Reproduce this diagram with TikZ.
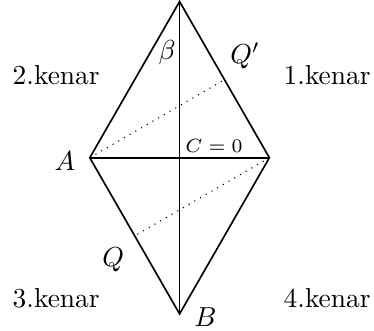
\documentclass[tikz,border=0pt]{standalone}
\usepackage{tikz}
\usetikzlibrary{positioning,calc}

\begin{document}
\begin{tikzpicture}[
edge/.style={
semithick,
color=black
},
helper/.style={
dotted,
thin
},
sidelabel/.style={
font=\normalsize
}
]

\useasboundingbox (-2.30,-2.21) rectangle (2.49,2.02);

\coordinate (top) at (0,2);
\coordinate (bottom) at (0,-2);
\coordinate (left) at (-1.15,0);
\coordinate (right) at (1.15,0);

\coordinate (qprime) at ($(top)!0.5!(right)$);
\coordinate (q) at ($(left)!0.5!(bottom)$);

\draw[edge] (top) -- (right) -- (bottom) -- (left) -- cycle;

\draw[edge] (top) -- (bottom);

\draw[edge] (left) -- (right);

\draw[helper] (left) -- (qprime);

\draw[helper] (right) -- (q);

\node[sidelabel] (k1) at (1.89,1.06) {1.kenar};
\node[sidelabel] (k2) at (-1.58,1.06) {2.kenar};
\node[sidelabel] (k3) at (-1.58,-1.80) {3.kenar};
\node[sidelabel] (k4) at (1.89,-1.80) {4.kenar};

\node (beta) at (-0.16,1.35) {$\beta$};
\node (qplabel) at (0.84,1.31) {$Q'$};
\node (alabel) at (-1.47,-0.04) {$A$};
\node[font=\scriptsize] (czero) at (0.44,0.15) {$C=0$};
\node (qlabel) at (-0.85,-1.31) {$Q$};
\node (blabel) at (0.33,-2.04) {$B$};

\end{tikzpicture}
\end{document}
